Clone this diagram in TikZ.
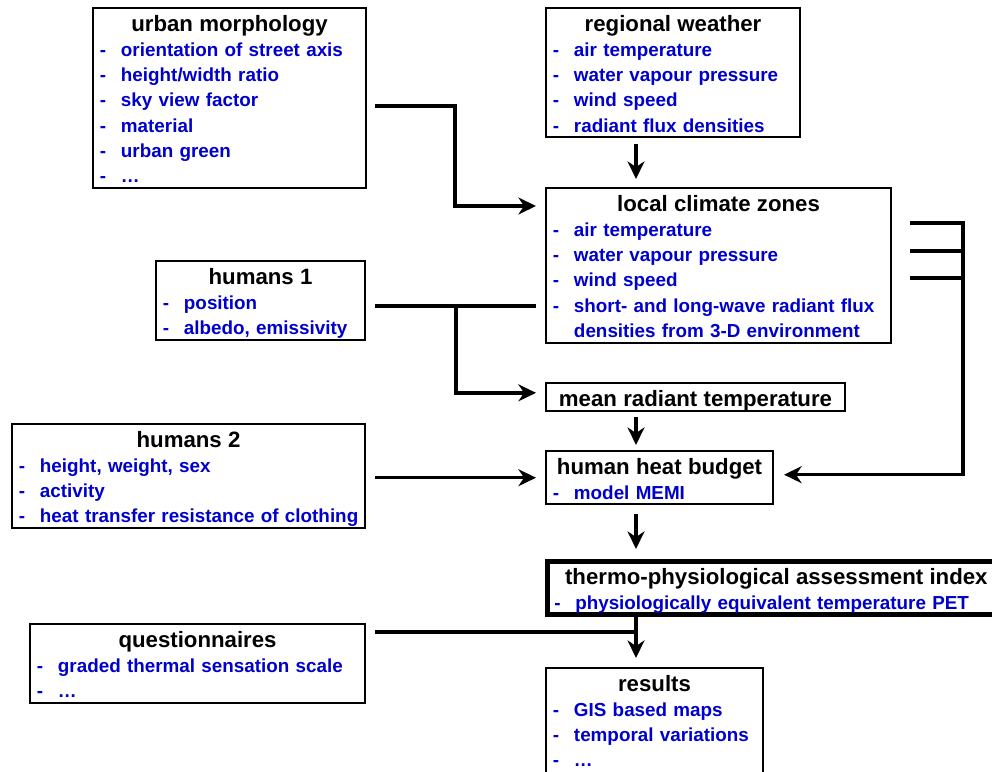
\documentclass[tikz,border=0pt]{standalone}
\usepackage{fontspec}
\setmainfont{Liberation Sans}
\usepackage{xcolor}
\usepackage{tikz}
\usetikzlibrary{arrows.meta}
\usetikzlibrary{calc}

\definecolor{itemblue}{RGB}{0,0,204}
\newcommand{\hd}[1]{{\noindent\centering\fontsize{15.8}{18}\selectfont\rule{0pt}{16.4pt}\mbox{#1}\par}}
\newcommand{\li}[1]{\par\noindent{\color{itemblue}\makebox[0.525cm][l]{-}\mbox{#1}}\rule[-3.6pt]{0pt}{3.6pt}}
\newcommand{\lic}[1]{\par\noindent{\color{itemblue}\hspace*{0.525cm}\mbox{#1}}\rule[-3.6pt]{0pt}{3.6pt}}
\hfuzz=20pt

\begin{document}
\begin{tikzpicture}[x=0.025cm, y=-0.025cm]
  \tikzstyle{box}=[draw, line width=1.4pt, anchor=north west, inner xsep=0.175cm, inner ysep=0pt, font=\bfseries\fontsize{13.4}{18}\selectfont]
  \tikzstyle{link}=[line width=2.4pt, -{Stealth[length=12.5pt, width=12pt, inset=4pt]}]
  \tikzstyle{wire}=[line width=2.4pt]
  \useasboundingbox (0,0) rectangle (992,771);
  \clip (0,0) rectangle (992,771);

  \node[box, text width=6.475cm] (urban) at (92,7) {\hd{urban morphology}\li{orientation of street axis}\li{height/width ratio}\li{sky view factor}\li{material}\li{urban green}\li{…}};
  \node[box, text width=6.0cm] (regional) at (545,7) {\hd{regional weather}\li{air temperature}\li{water vapour pressure}\li{wind speed}\li{radiant flux densities}};
  \node[box, text width=8.275cm] (local) at (545,187) {\hd{local climate zones}\li{air temperature}\li{water vapour pressure}\li{wind speed}\li{short- and long-wave radiant flux}\lic{densities from 3-D environment}};
  \node[box, text width=4.875cm] (humans1) at (155,260) {\hd{humans 1}\li{position}\li{albedo, emissivity}};
  \node[box, text width=7.125cm] (mrt) at (545,382) {\hd{mean radiant temperature}};
  \node[box, text width=8.475cm] (humans2) at (11,423) {\hd{humans 2}\li{height, weight, sex}\li{activity}\li{heat transfer resistance of clothing}};
  \node[box, text width=5.325cm] (hhb) at (545,450) {\hd{human heat budget}\li{model MEMI}};
  \node[box, line width=3.2pt, text width=11.1cm] (thermo) at (545,559) {\hd{thermo-physiological assessment index}\li{physiologically equivalent temperature PET}};
  \node[box, text width=8.025cm] (quest) at (29,623) {\hd{questionnaires}\li{graded thermal sensation scale}\li{…}};
  \node[box, text width=5.075cm] (results) at (545,667) {\hd{results}\li{GIS based maps}\li{temporal variations}\li{…}\rule[-16pt]{0pt}{16pt}};

  \draw[link] ($(urban.north east)+(8,99)$) -| ($(local.north west)+(-90,19)$) -- ($(local.north west)+(-9,19)$);
  \draw[link] ($(regional.south west)+(91,6)$) -- ($(local.north west)+(91,-8)$);
  \coordinate (h1out) at ($(humans1.north east)+(9,46)$);
  \draw[wire] (h1out) -- ($(h1out -| local.west)+(-9,0)$);
  \draw[link] ($(h1out)+(81,0)$) |- ($(mrt.west)+(-9,-4)$);
  \draw[link] ($(mrt.south west)+(91,5)$) -- ($(hhb.north west)+(91,-5)$);
  \draw[link] ($(humans2.east |- hhb.west)+(9,0)$) -- ($(hhb.west)+(-9,0)$);
  \draw[link] ($(local.north east)+(18,36)$) -- ++(53,0) |- ($(hhb.east)+(10,-3)$);
  \foreach \dy in {64,91}
    \draw[wire] ($(local.north east)+(18,\dy)$) -- ++(53,0);
  \draw[link] ($(hhb.south west)+(91,9)$) -- ($(thermo.north west)+(91,-10)$);
  \draw[link] ($(thermo.south west)+(91,0)$) -- ($(results.north west)+(91,-9)$);
  \draw[wire] ($(quest.north east)+(9,9)$) -| ($(thermo.south west)+(91,0)$);
\end{tikzpicture}
\end{document}
